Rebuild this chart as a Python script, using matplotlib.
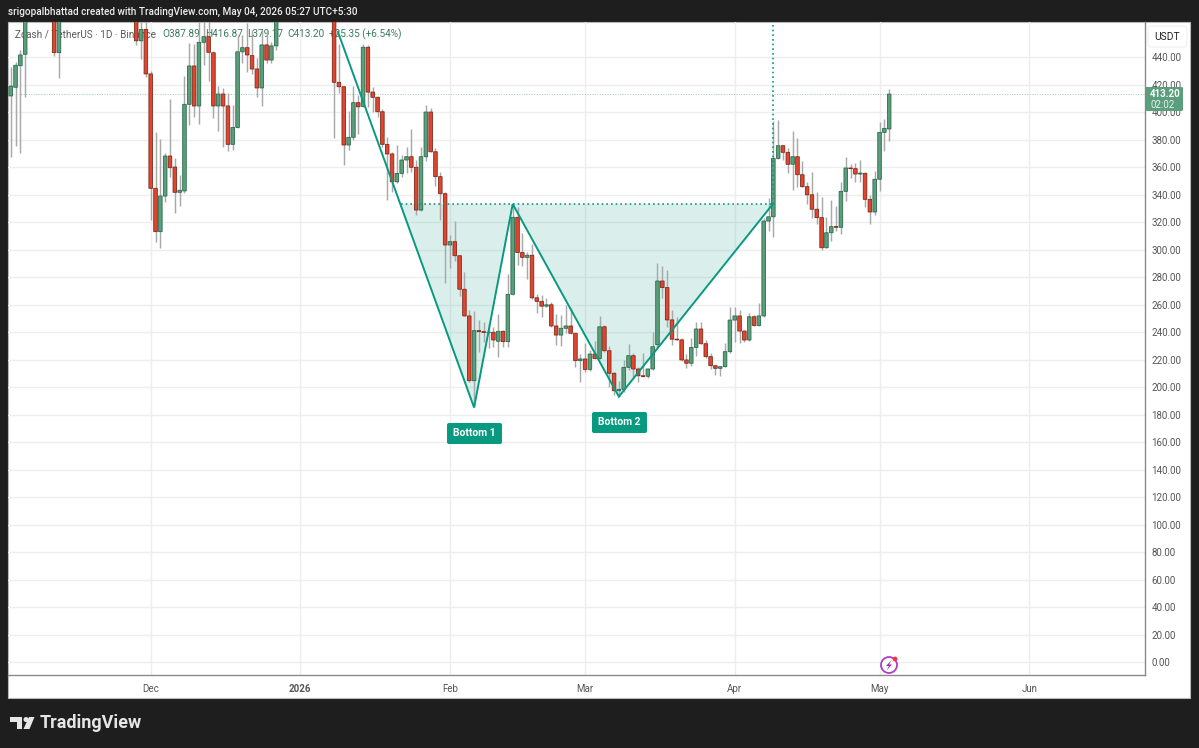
import matplotlib
matplotlib.use("Agg")
import matplotlib.pyplot as plt
from matplotlib.patches import Rectangle, FancyBboxPatch, Circle, Polygon

plt.rcParams['font.family'] = ['Roboto', 'DejaVu Sans']

# candles are counted in days from 2 Nov 2025, days above the top of the pane are left out
candle_days = [0, 1, 2, 3, 9, 10] + list(range(26, 56)) + list(range(67, 183))

opens = [411.9, 418.2, 433.9, 442.2, 480, 443.4,
         480, 452, 460.3, 427.9, 344.7, 313.2, 339.1, 368.2, 360.2, 341.8,
         342.8, 405.8, 433.7, 404.6, 450.9, 455, 443.3, 404.6, 413.3, 404.6,
         376.7, 389, 444, 447, 441.2, 431.5, 417.7, 449, 438, 448.3,
         475, 421.8, 418.6, 376.2, 381.8, 407, 404.3, 447.3, 414.7, 410.9,
         400.4, 376.7, 369.7, 349.5, 355.6, 365.3, 367.7, 360, 328.9, 367.7,
         400.2, 371.3, 353.2, 340.8, 303.5, 305.9, 295.7, 271.3, 251.9, 204.8,
         241.2, 240.5, 239.9, 240, 233.5, 240.7, 233.2, 267.6, 323.6, 298,
         294.5, 296, 265.1, 262.5, 259, 260, 244.6, 238, 242.9, 244.6,
         239.3, 219.4, 220.6, 213, 224.2, 221, 244, 226.6, 210.2, 197.5,
         198.5, 214.5, 223, 213.3, 208.4, 208, 213.3, 231, 277.3, 272.5,
         249, 235, 234.5, 219.9, 217.5, 229, 242.4, 231.7, 222.3, 215.7,
         213.8, 215, 225.9, 248.9, 251.9, 240.9, 234.4, 251.3, 245, 251.9,
         320.9, 324, 366.5, 375.7, 370.9, 362.2, 367.7, 354.6, 345.9, 340,
         329.5, 323.4, 301.5, 312.4, 316.8, 316.4, 342.5, 359.5, 359, 355.1,
         355.6, 336.7, 327.5, 351.3, 385.4, 387.89]

highs = [433, 436.8, 445.3, 475, 485, 480,
         485, 470, 470, 430, 385.9, 380.3, 370.2, 409.4, 366.5, 354.4,
         426.4, 450.6, 450, 466, 470, 470, 444.8, 419, 417.4, 413.8,
         405.3, 456, 456.3, 465, 460, 439.3, 460, 460, 451.4, 475,
         480, 450, 419, 401, 419.1, 412.6, 449.7, 449, 418.6, 412,
         402.4, 381.8, 371.4, 376.2, 368.9, 375, 387.9, 365.3, 375, 405.3,
         403, 373.8, 356.6, 342, 310.8, 321.2, 296, 284, 256.2, 255.5,
         248.9, 247.7, 246, 244, 253, 241.7, 282.4, 333.8, 331.3, 311.9,
         298.6, 304.4, 267.9, 267, 264.9, 262, 253.3, 252.6, 259.9, 257.9,
         239.7, 224.2, 232, 227, 234, 252, 245.3, 230, 211.4, 204.6,
         219.9, 231.5, 224.7, 215, 224.7, 214.3, 240, 290.6, 288.2, 285.3,
         256.2, 251.4, 235.8, 224, 235.6, 247.7, 247.3, 234.4, 224.9, 216.2,
         215.7, 232, 258.2, 258.6, 256.2, 241.7, 254.3, 252.6, 261, 323,
         338, 394, 394.4, 376.2, 373.8, 386.6, 381.3, 364.6, 349.5, 356.3,
         341.8, 338.6, 323.6, 336.2, 331.9, 349.5, 367.3, 362.2, 362.9, 365.3,
         356.3, 339.8, 357.3, 393.2, 394.9, 416.87]

lows = [367.5, 375.5, 370.6, 411.3, 441, 425,
        449, 438.5, 425.9, 321.7, 305.9, 301.5, 335, 352.7, 327, 332,
        341, 390.8, 396.8, 391.3, 434.4, 423, 396, 386.6, 374.5, 371.8,
        372.6, 388.6, 435.6, 429, 427.6, 410.9, 404.8, 435.6, 436, 445.3,
        381.5, 413.8, 361.7, 372.6, 379.8, 384, 403.6, 403.8, 400.4, 396.8,
        375, 336.2, 341.8, 348.8, 352.7, 355.6, 356.6, 325.3, 328.4, 364.8,
        371, 346.4, 321.7, 275.6, 286.5, 292, 266.4, 251.8, 204, 185.9,
        225.9, 233.2, 228.6, 229, 221.8, 229.5, 229.5, 267, 289, 288.4,
        279, 264, 254.3, 251, 258.6, 244, 230.7, 230, 239.3, 238.8,
        215, 204, 211.3, 212, 220.6, 220.4, 225.9, 200.4, 194.4, 193.2,
        196.8, 212.6, 207.7, 204, 207.7, 206.5, 212.6, 229.5, 264.7, 244,
        230.8, 234.4, 219, 214.3, 215.7, 222.8, 231.4, 221.5, 213, 208.9,
        208.2, 214.5, 225.2, 233.2, 232, 233.2, 233.9, 244.6, 244.6, 251.3,
        313.9, 309, 366, 365.3, 356, 343.5, 345.9, 345.4, 333.3, 323.4,
        318.8, 299.9, 301, 306.6, 313.9, 311.5, 335.7, 352, 349.5, 349.5,
        330.9, 318.8, 325.3, 343, 372, 379.17]

closes = [419.1, 434.2, 441.7, 470, 443.4, 475,
          452, 460.3, 427.9, 344.7, 313.2, 339.1, 368.2, 359.7, 341.8, 343.3,
          405.8, 433.7, 404.6, 450.9, 455, 443.6, 404.6, 413.3, 404.6, 376.7,
          389, 444, 447, 441.7, 431.5, 417.7, 449, 438, 448.3, 470,
          421.8, 418.6, 376.2, 381.8, 407, 404, 447.3, 414.7, 410.9, 400.4,
          376.7, 369.7, 349.5, 355.6, 365.3, 367.7, 360, 328.9, 367.7, 400.2,
          371.3, 353.2, 340.8, 303.5, 305.9, 295.7, 271.3, 251.9, 204.8, 241.2,
          240.5, 239.9, 240, 234.4, 240.7, 233.2, 267.6, 323.6, 298, 294.5,
          296, 265.1, 262.5, 259, 260, 244.6, 238, 242.9, 244.6, 239.3,
          219.4, 220.6, 213, 224.2, 221, 244, 226.6, 210.2, 197.5, 198.5,
          214.5, 223, 213.3, 208.4, 207.9, 213.3, 229.5, 277.3, 272.5, 249,
          235, 234.5, 219.9, 217.5, 229, 242.4, 231.7, 222.3, 215.7, 213.8,
          215, 225.9, 248.9, 251.9, 240.9, 234.4, 251.3, 245, 251.9, 320.9,
          324, 366.5, 375.7, 370.9, 362.2, 367.7, 354.6, 345.9, 340, 329.5,
          323.4, 301.5, 312.4, 316.8, 316.4, 342.5, 359.5, 359, 355.1, 355.8,
          336.7, 327.5, 351.3, 385.4, 388.3, 413.2]

# the double bottom drawing
pattern_days = [67.8, 96, 104, 126, 157.9]
pattern_prices = [458.4, 185.3, 333.3, 193.2, 333.3]
neckline_start_day = 80.8
last_price = 413.2

month_days = [29, 60, 91, 119, 150, 180, 211]
month_labels = ['Dec', '2026', 'Feb', 'Mar', 'Apr', 'May', 'Jun']
price_ticks = list(range(0, 441, 20))

TEAL = '#089981'
GRID = '#eeeeee'
W, H = 1199, 748

fig = plt.figure(figsize=(W / 100, H / 100), dpi=100, facecolor='#1e1e1e')

# background frame, in pixels
frame = fig.add_axes([0, 0, 1, 1], zorder=0)
frame.set_xlim(0, W)
frame.set_ylim(H, 0)
frame.axis('off')
frame.add_patch(Rectangle((8.3, 22.3), 1182, 675.5, fc='white', ec='#b8b8b8', lw=0.8))

# price pane
L, R, T, B = 8.3, 1145, 22.3, 675
ax = fig.add_axes([L / W, 1 - B / H, (R - L) / W, (B - T) / H], zorder=1)
ax.patch.set_alpha(0)
ax.set_xlim(-0.5, 235.0)
ax.set_ylim(-9.24, 465.45)

ax.set_axisbelow(True)
ax.grid(True, color=GRID, lw=1.0, zorder=0)
ax.set_xticks(month_days, month_labels)
ax.set_yticks(price_ticks, ['%.2f' % p for p in price_ticks])
ax.yaxis.tick_right()
ax.tick_params(axis='both', length=0, labelsize=7.0, labelcolor='#555555')
ax.tick_params(axis='x', pad=6.5)
ax.tick_params(axis='y', pad=4.6)
ax.get_xticklabels()[1].set_fontweight('bold')
for side in ['left', 'top']:
    ax.spines[side].set_visible(False)
for side in ['right', 'bottom']:
    ax.spines[side].set_color('#8a8a8a')
    ax.spines[side].set_linewidth(1.0)

# legend line sits under the candles
ax.text(15, 34, 'Zcash / TetherUS · 1D · Binance', transform=frame.transData,
        fontsize=7.2, color='#5a5a5a', va='center', zorder=1.5)
for px, s in [(162, 'O387.89'), (205, 'H416.87'), (247, 'L379.17'), (287, 'C413.20'),
              (329, '+25.35 (+6.54%)')]:
    ax.text(px, 34, s, transform=frame.transData, fontsize=7.2, color='#3b7a5c',
            va='center', zorder=1.5)

# pattern fill and last price line
ax.fill([neckline_start_day] + pattern_days[1:], [pattern_prices[2]] + pattern_prices[1:],
        color=TEAL, alpha=0.15, lw=0, zorder=1)
ax.axhline(last_price, color='#9cc8b8', lw=0.7, ls=(0, (1, 1.6)), zorder=1.2)

# candles
colors = ['#5a9e7c' if c >= o else '#e2452f' for o, c in zip(opens, closes)]
edges = ['#2a6b4c' if c >= o else '#7f2a1b' for o, c in zip(opens, closes)]
ax.vlines(candle_days, lows, highs, color='#a9a9a9', lw=1.05, zorder=2)
bars = ax.bar(candle_days, [c - o for o, c in zip(opens, closes)], bottom=opens, width=0.74,
              color=colors, edgecolor=edges, linewidth=0.6, zorder=3)
for b in bars:
    b.set_snap(False)

# pattern lines
ax.plot(pattern_days, pattern_prices, color=TEAL, lw=1.4, zorder=4, solid_joinstyle='miter')
ax.plot([neckline_start_day, pattern_days[4]], [pattern_prices[2], pattern_prices[4]],
        color=TEAL, lw=1.2, ls=(0, (1, 1.8)), zorder=4)
ax.plot([pattern_days[4], pattern_days[4]], [pattern_prices[4], 465.45],
        color=TEAL, lw=1.2, ls=(0, (1, 1.8)), zorder=4)

# things on top, in pixels
over = fig.add_axes([0, 0, 1, 1], zorder=2)
over.set_xlim(0, W)
over.set_ylim(H, 0)
over.axis('off')
over.patch.set_alpha(0)

over.text(8, 12, 'srigopalbhattad created with TradingView.com, May 04, 2026 05:27 UTC+5:30',
          color='#eeeeee', fontsize=7.2, fontweight='medium', va='center')

for x0, y0, s in [(447, 423, 'Bottom 1'), (592, 412, 'Bottom 2')]:
    over.add_patch(FancyBboxPatch((x0, y0), 55, 21, boxstyle='round,pad=0,rounding_size=2',
                                  fc=TEAL, ec='none'))
    over.text(x0 + 27.5, y0 + 10, s, color='white', fontsize=7.4, fontweight='bold',
              ha='center', va='center')

# USDT button
over.add_patch(FancyBboxPatch((1148, 26), 39, 21, boxstyle='round,pad=0,rounding_size=3',
                              fc='white', ec='#f0f0f0', lw=0.8))
over.text(1167, 37, 'USDT', color='#222222', fontsize=7.4, ha='center', va='center')

# last price tag
over.add_patch(FancyBboxPatch((1145, 87), 38, 24, boxstyle='round,pad=0,rounding_size=1.5',
                              fc='#5a9e7c', ec='none'))
over.text(1165.5, 94, '413.20', color='white', fontsize=7.0, fontweight='bold', ha='center', va='center')
over.text(1162.5, 105, '02:02', color='#e6f2ec', fontsize=7.0, ha='center', va='center')

# bolt icon
over.add_patch(Circle((889, 665), 8, fc='white', ec='#b13fc6', lw=1.3))
over.add_patch(Polygon([(891.5, 660), (886, 666), (889, 666), (886.5, 670.5), (892, 664.5), (889, 664.5)],
                       fc='#8e2fb0', ec='none'))
over.add_patch(Circle((895, 659), 2.4, fc='#f23645', ec='none'))

# TradingView logo
over.add_patch(Polygon([(10, 717), (22, 717), (22, 729), (16.5, 729), (16.5, 722), (10, 722)],
                       fc='#e6e6e6', ec='none'))
over.add_patch(Circle((26, 719.5), 2.5, fc='#e6e6e6', ec='none'))
over.add_patch(Polygon([(29, 717), (34.5, 717), (29.5, 729), (23.5, 729)], fc='#e6e6e6', ec='none'))
over.text(40, 722.5, 'TradingView', color='#e6e6e6', fontsize=13, fontweight='bold',
          va='center')

fig.savefig('out.png', dpi=100, facecolor=fig.get_facecolor())
